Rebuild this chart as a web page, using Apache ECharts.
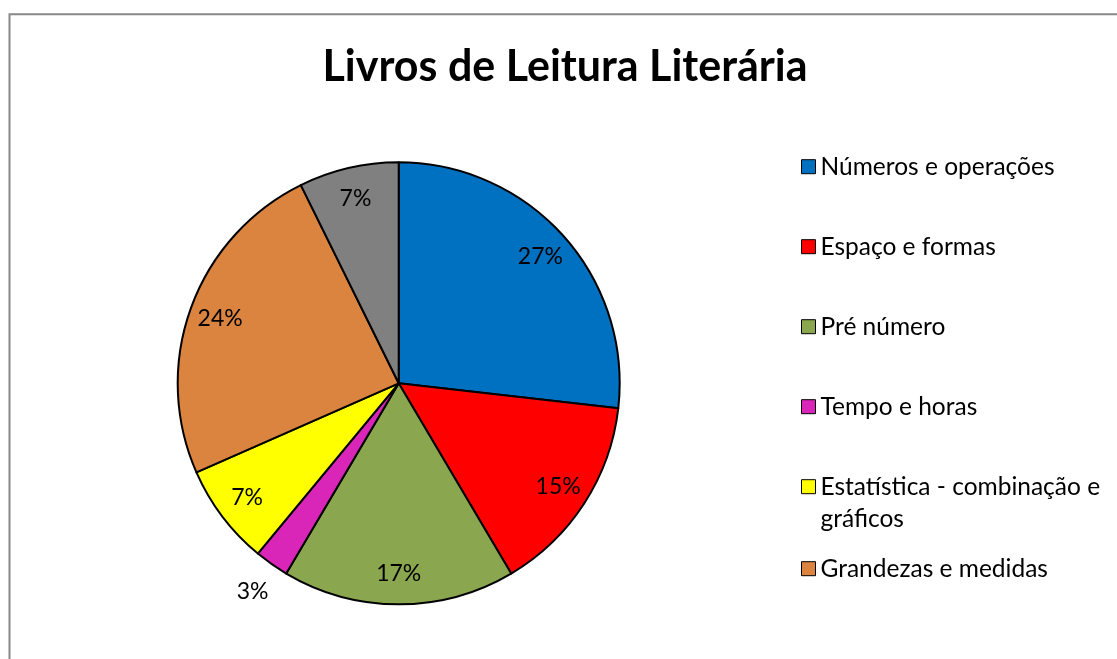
<!DOCTYPE html>
<html>
<head>
<meta charset="utf-8">
<script src="https://cdn.jsdelivr.net/npm/echarts@6/dist/echarts.min.js"></script>
<style>
  html, body { margin: 0; padding: 0; background: #fff; }
  #chart { width: 1117px; height: 659px; }
</style>
</head>
<body>
<div id="chart"></div>
<script>
// categories and shares (%); last slice has no visible legend entry
const categories = [
  "Números e operações",
  "Espaço e formas",
  "Pré número",
  "Tempo e horas",
  "Estatística - combinação e gráficos",
  "Grandezas e medidas",
  "Outros"
];
const shares = [26.8, 14.7, 17.0, 2.5, 7.4, 24.3, 7.3];
const colors = ["#0070C0", "#FF0000", "#8AA64E", "#DA26B8", "#FFFF00", "#DA843F", "#808080"];
const legendTop = categories.slice(0, 4);
const legendBottom = categories.slice(4, 6);
const outsideLabel = "Tempo e horas";

const FONT = "Lato";
const CX = 398.7, CY = 383.3, R = 221;

const chart = echarts.init(document.getElementById("chart"), null, { renderer: "canvas" });

const pct = p => Math.round(p.value) + "%";

function legendText(name) {
  if (name.indexOf(" gráficos") > 0) return "\n" + name.replace(" gráficos", "\ngráficos");
  return name;
}

const legendBase = {
  orient: "vertical",
  left: 801,
  padding: 0,
  icon: "rect",
  itemWidth: 14,
  itemHeight: 14,
  selectedMode: false,
  itemStyle: { borderColor: "#000", borderWidth: 1 },
  textStyle: { fontFamily: FONT, fontSize: 24.5, color: "#000", lineHeight: 32 },
  formatter: legendText,
};

const labelStyle = { fontFamily: FONT, fontSize: 23, color: "#000" };

chart.setOption({
  animation: false,
  backgroundColor: "#fff",
  title: {
    text: "Livros de Leitura Literária",
    left: 560, textAlign: "center",
    top: 41,
    textStyle: { fontFamily: FONT, fontSize: 43, fontWeight: "bold", color: "#000" },
  },
  graphic: [{
    type: "rect", silent: true,
    shape: { x: 9.5, y: 14.3, width: 1300, height: 800 },
    style: { fill: "none", stroke: "#888", lineWidth: 2 },
  }],
  legend: [
    Object.assign({}, legendBase, { top: 150.7, itemGap: 48, data: legendTop }),
    Object.assign({}, legendBase, { top: 438.7, itemGap: 18, data: legendBottom }),
  ],
  series: [
    {
      type: "pie",
      center: [CX, CY],
      radius: [0, R],
      startAngle: 90,
      clockwise: true,
      avoidLabelOverlap: false,
      label: { show: false },
      labelLine: { show: false },
      emphasis: { disabled: true },
      itemStyle: { borderColor: "#000", borderWidth: 2 },
      data: categories.map((c, i) => ({ name: c, value: shares[i], itemStyle: { color: colors[i] } })),
    },
    {
      // invisible ring carrying the inside labels
      type: "pie",
      center: [CX, CY],
      radius: [153, R],
      startAngle: 90,
      clockwise: true,
      silent: true,
      avoidLabelOverlap: false,
      itemStyle: { color: "rgba(0,0,0,0)", borderWidth: 0 },
      label: Object.assign({ show: true, position: "inside", formatter: pct }, labelStyle),
      labelLine: { show: false },
      emphasis: { disabled: true },
      data: categories.map((c, i) => ({
        name: c, value: shares[i],
        label: { show: c !== outsideLabel },
      })),
    },
    {
      // invisible ring for the label that sits outside the pie
      type: "pie",
      center: [CX, CY],
      radius: [240, 262],
      startAngle: 90,
      clockwise: true,
      silent: true,
      avoidLabelOverlap: false,
      itemStyle: { color: "rgba(0,0,0,0)", borderWidth: 0 },
      label: Object.assign({ show: true, position: "inside", formatter: pct }, labelStyle),
      labelLine: { show: false },
      emphasis: { disabled: true },
      data: categories.map((c, i) => ({
        name: c, value: shares[i],
        label: { show: c === outsideLabel },
      })),
    },
  ],
});
</script>
</body>
</html>
